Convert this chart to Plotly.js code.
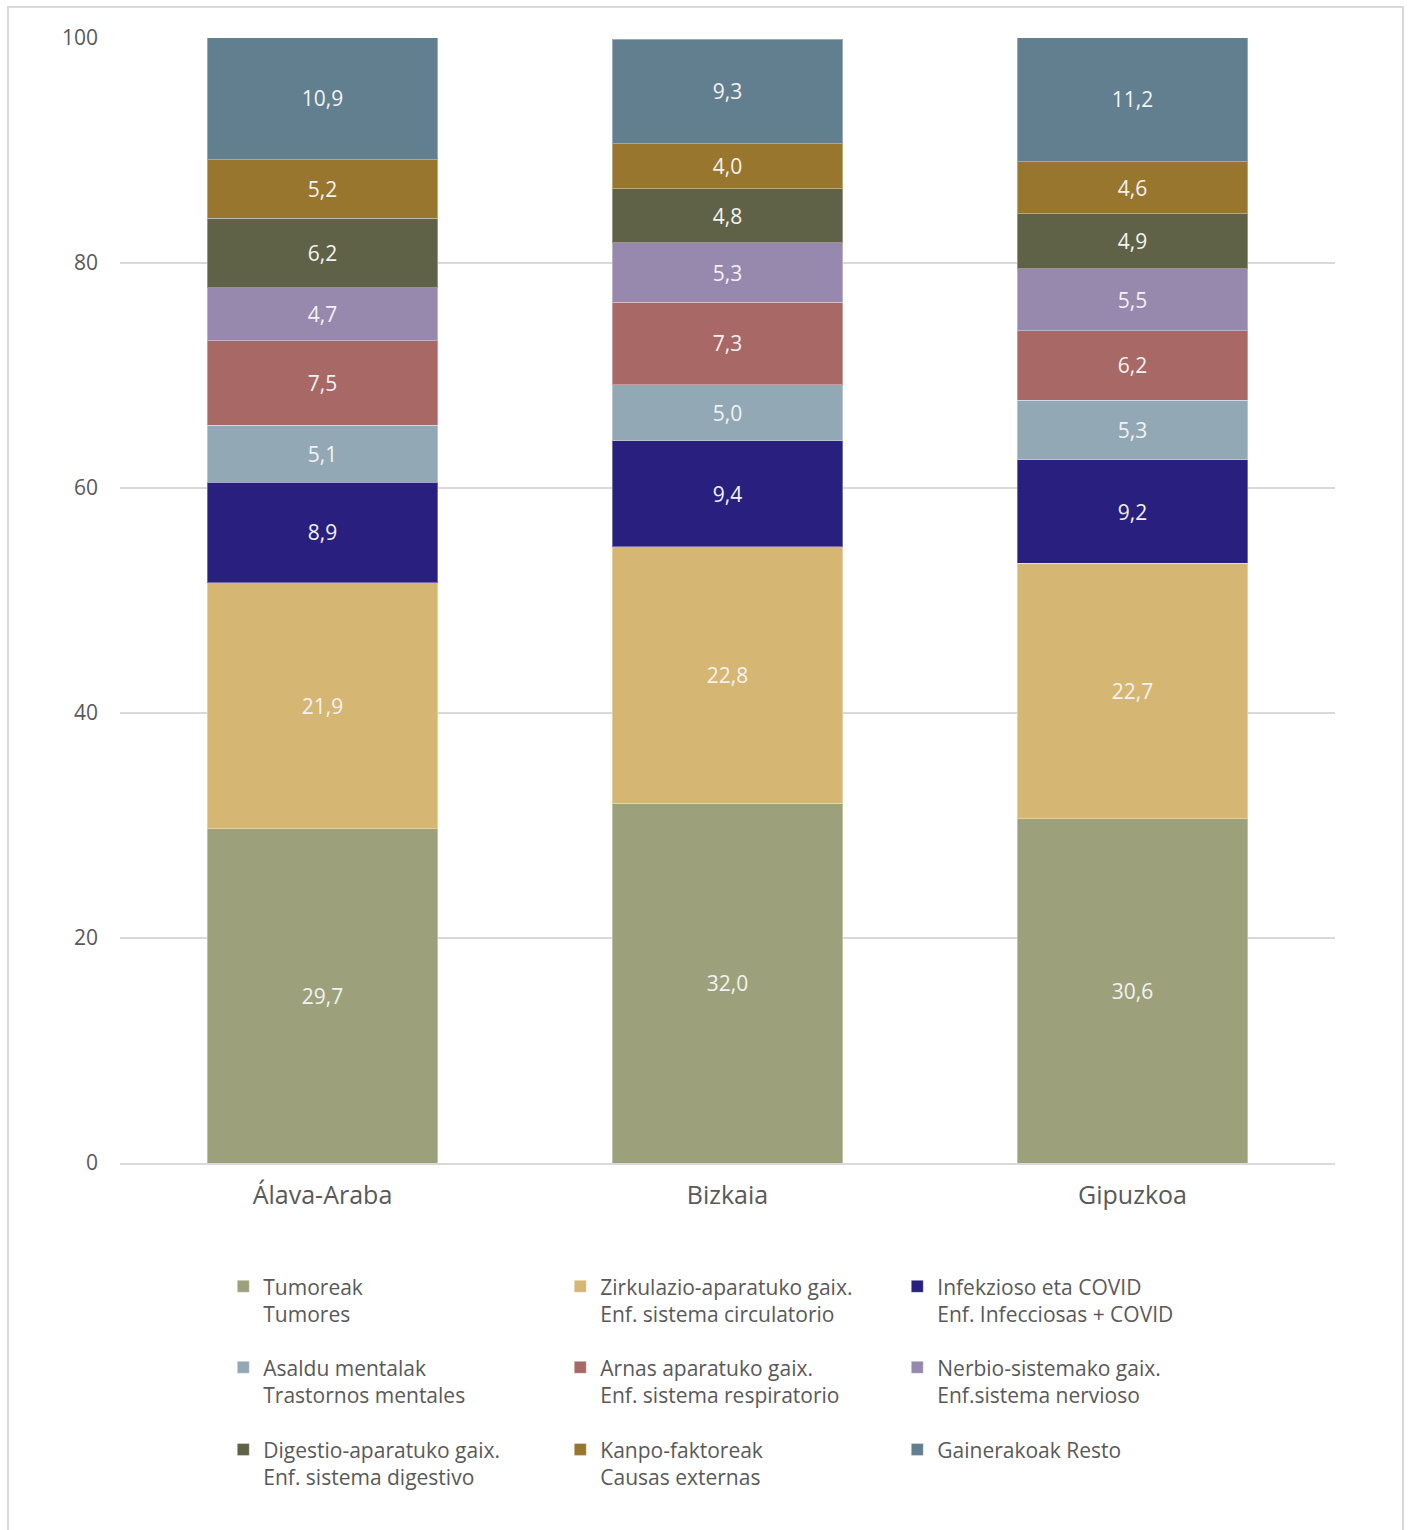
<!DOCTYPE html>
<html><head><meta charset="utf-8">
<script src="https://cdn.plot.ly/plotly-3.0.1.min.js"></script>
<style>body{margin:0;background:#fff}#c{width:1408px;height:1530px}</style>
</head><body><div id="c"></div>
<script>
const categories = ['Álava-Araba', 'Bizkaia', 'Gipuzkoa'];
const seriesNames = [
  'Tumoreak<br>Tumores',
  'Zirkulazio-aparatuko gaix.<br>Enf. sistema circulatorio',
  'Infekzioso eta COVID<br>Enf. Infecciosas + COVID',
  'Asaldu mentalak<br>Trastornos mentales',
  'Arnas aparatuko gaix.<br>Enf. sistema respiratorio',
  'Nerbio-sistemako gaix.<br>Enf.sistema nervioso',
  'Digestio-aparatuko gaix.<br>Enf. sistema digestivo',
  'Kanpo-faktoreak<br>Causas externas',
  'Gainerakoak Resto'
];
const tumoreak     = [29.7, 32.0, 30.6];
const zirkulazio   = [21.9, 22.8, 22.7];
const infekzioso   = [8.9, 9.4, 9.2];
const mentalak     = [5.1, 5.0, 5.3];
const arnas        = [7.5, 7.3, 6.2];
const nerbio       = [4.7, 5.3, 5.5];
const digestio     = [6.2, 4.8, 4.9];
const kanpo        = [5.2, 4.0, 4.6];
const gainerakoak  = [10.9, 9.3, 11.2];
const seriesValues = [tumoreak, zirkulazio, infekzioso, mentalak, arnas, nerbio, digestio, kanpo, gainerakoak];
const colors = ['#9da17b', '#d6b673', '#281f7e', '#93a8b5', '#a86866', '#9788ae', '#5f6246', '#98762e', '#627f8f'];
const yTicks = [0, 20, 40, 60, 80, 100];

const FONT = '"Open Sans", Lato, sans-serif';
const legendIds = ['legend', 'legend', 'legend', 'legend2', 'legend2', 'legend2', 'legend3', 'legend3', 'legend3'];

const traces = seriesValues.map((vals, i) => ({
  type: 'bar',
  name: seriesNames[i],
  x: categories,
  y: vals,
  legend: legendIds[i],
  marker: {color: colors[i], line: {color: 'rgba(255,255,255,0.35)', width: 1}},
  texttemplate: '%{y:.1f}',
  textposition: 'inside',
  insidetextanchor: 'middle',
  textangle: 0,
  textfont: {family: FONT, size: 21, color: '#f2f2f2'},
  hoverinfo: 'skip'
}));

function legendCfg(y) {
  return {
    orientation: 'h', x: 0.085, xanchor: 'left', y: y, yanchor: 'top',
    entrywidthmode: 'pixels', entrywidth: 292,
    valign: 'top', traceorder: 'normal',
    font: {family: FONT, size: 21, color: '#595959'},
    bgcolor: 'rgba(0,0,0,0)', borderwidth: 0
  };
}

const layout = {
  width: 1408, height: 1530,
  margin: {l: 120, r: 73, t: 38, b: 367},
  barmode: 'stack',
  bargap: 0.43,
  separators: ',.',
  paper_bgcolor: '#ffffff',
  plot_bgcolor: '#ffffff',
  font: {family: FONT, color: '#595959'},
  xaxis: {
    type: 'category',
    showgrid: false,
    showline: true, linecolor: '#d9d9d9', linewidth: 2,
    ticks: '', ticklabelstandoff: 9,
    tickfont: {family: FONT, size: 25, color: '#595959'}
  },
  yaxis: {
    range: [0, 100],
    tickvals: yTicks,
    showgrid: true, gridcolor: '#d9d9d9', gridwidth: 2,
    zeroline: false, showline: false,
    ticks: '', ticklabelstandoff: 21,
    tickfont: {family: FONT, size: 21, color: '#595959'}
  },
  showlegend: true,
  legend: legendCfg(-0.0917),
  legend2: legendCfg(-0.1637),
  legend3: legendCfg(-0.2367),
  shapes: [{
    type: 'rect', xref: 'paper', yref: 'paper', layer: 'below',
    x0: (8 - 120) / 1215, x1: (1403 - 120) / 1215,
    y0: (1163 - 1545) / 1125, y1: (1163 - 7) / 1125,
    line: {color: '#d9d9d9', width: 2}, fillcolor: 'rgba(0,0,0,0)'
  }]
};

Plotly.newPlot('c', traces, layout, {staticPlot: true});
</script>
</body></html>
